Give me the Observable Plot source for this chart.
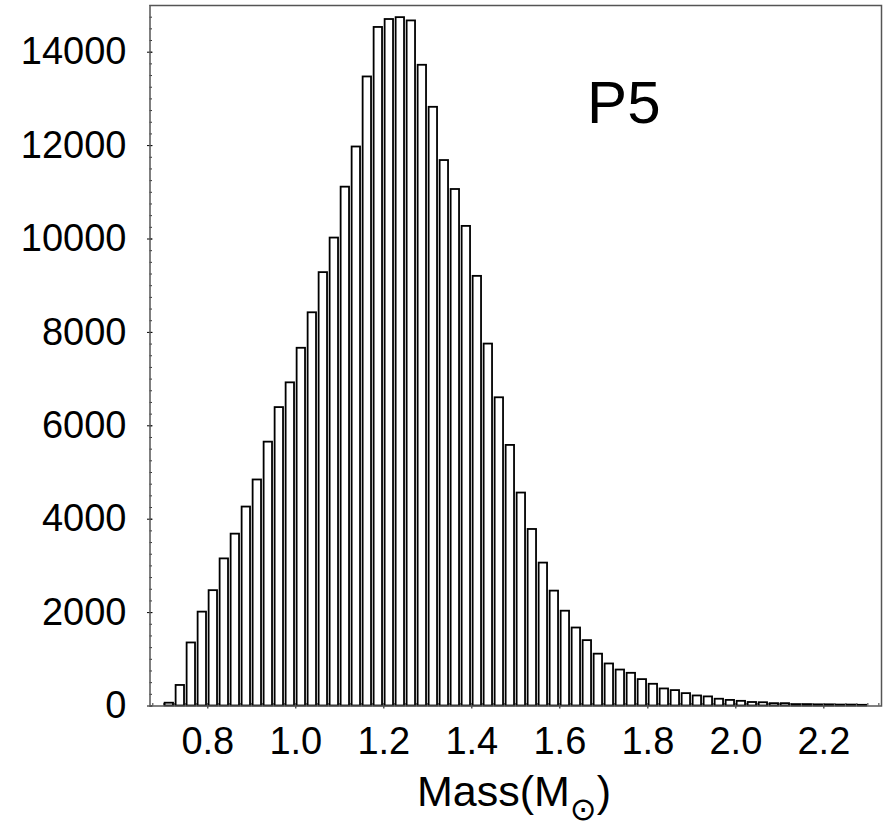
<!DOCTYPE html>
<html><head><meta charset="utf-8">
<script src="https://cdn.jsdelivr.net/npm/d3@7"></script>
<script src="https://cdn.jsdelivr.net/npm/@observablehq/plot@0.6"></script>
<style>body{margin:0;background:#fff;}</style>
</head><body><div id="chart"></div>
<script>
// Histogram bins (left edge, width 0.025) and counts
const binStart = [0.700,0.725,0.750,0.775,0.800,0.825,0.850,0.875,0.900,0.925,0.950,0.975,
  1.000,1.025,1.050,1.075,1.100,1.125,1.150,1.175,1.200,1.225,1.250,1.275,1.300,1.325,1.350,1.375,
  1.400,1.425,1.450,1.475,1.500,1.525,1.550,1.575,1.600,1.625,1.650,1.675,1.700,1.725,1.750,1.775,
  1.800,1.825,1.850,1.875,1.900,1.925,1.950,1.975,2.000,2.025,2.050,2.075,2.100,2.125,2.150,2.175,
  2.200,2.225,2.250,2.275];
const counts = [60,440,1350,2010,2470,3150,3680,4260,4840,5650,6390,6920,
  7660,8420,9280,10020,11110,11970,13470,14530,14700,14740,14670,13720,12820,11680,11060,10270,
  9200,7750,6600,5580,4560,3780,3060,2460,2030,1670,1400,1110,900,770,700,565,
  465,365,330,265,215,195,145,120,100,75,70,50,50,30,30,25,
  25,20,20,15];
const binWidth = 0.025;
const xTicks = [0.8,1.0,1.2,1.4,1.6,1.8,2.0,2.2];
const yTicks = [0,2000,4000,6000,8000,10000,12000,14000];
const panelLabel = [{x:1.662, y:12480, text:"P5"}];
const xLabelMain = "Mass(M", xLabelSub = "\u2299", xLabelEnd = ")";

const data = binStart.map((x0,i)=>({x1:x0, x2:x0+binWidth, count:counts[i]}));
const yMinor = d3.range(0, 15001, 250);
const xMinor = d3.range(0, 67).map(i => 0.675 + i*binWidth);

const font = "'Liberation Sans', Arial, sans-serif";
const plot = Plot.plot({
  width: 885, height: 829,
  marginLeft: 149.5, marginRight: 4, marginTop: 5, marginBottom: 123.5,
  style: {fontFamily: font, fontSize: "38px", color: "#000", background: "#fff"},
  x: {domain: [0.6686, 2.331]},
  y: {domain: [0, 15000]},
  marks: [
    Plot.axisY(yMinor, {tickSize: -2.5, tickFormat: () => "", label: null, stroke: "#333"}),
    Plot.axisX(xMinor, {tickSize: -2.5, tickFormat: () => "", label: null, stroke: "#333"}),
    Plot.rectY(data, {x1: "x1", x2: "x2", y: "count", fill: "white", stroke: "black",
      strokeWidth: 1.8, insetLeft: 1.3, insetRight: 1.3}),
    Plot.axisY(yTicks, {tickSize: 2.5, tickPadding: 21, fontSize: 38, label: null, tickFormat: d => String(d)}),
    Plot.axisY(yTicks, {tickSize: -3, tickFormat: () => "", label: null}),
    Plot.axisX(xTicks, {tickSize: 3, tickPadding: 18, fontSize: 38, label: null, tickFormat: d => d.toFixed(1)}),
    Plot.frame({stroke: "#555", strokeWidth: 1.5}),
    Plot.text(panelLabel, {x: "x", y: "y", text: "text", textAnchor: "start", lineAnchor: "bottom",
      fontSize: 60, fontFamily: font, fill: "#000"})
  ]
});

const svg = d3.select(plot);
const t = svg.append("text")
  .attr("x", 514).attr("y", 806)
  .attr("text-anchor", "middle")
  .attr("font-family", font)
  .attr("font-size", 43)
  .attr("fill", "#000");
t.append("tspan").text(xLabelMain);
t.append("tspan").attr("font-family", "'DejaVu Sans', sans-serif").attr("font-size", 32).attr("dy", 14).text(xLabelSub);
t.append("tspan").attr("dy", -14).text(xLabelEnd);

document.getElementById("chart").appendChild(plot);
</script>
</body></html>
